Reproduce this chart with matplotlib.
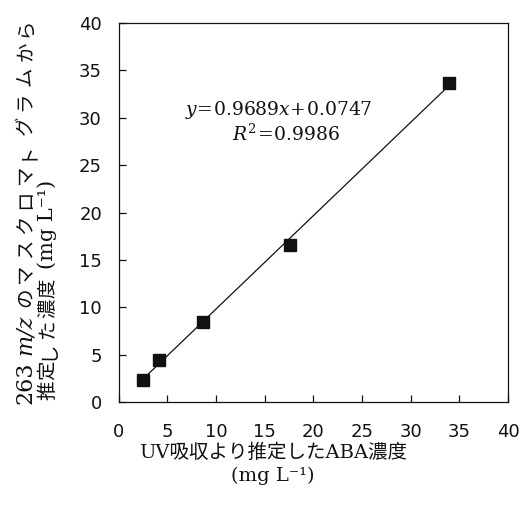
import numpy as np
import matplotlib
matplotlib.use("Agg")
import matplotlib.pyplot as plt

# values
uv_aba = [2.5, 4.1, 8.7, 17.6, 33.9]      # UV吸収より推定したABA濃度
ms_aba = [2.4, 4.5, 8.5, 16.6, 33.7]      # 263 m/z のマスクロマトグラムから推定した濃度
ticks = [0, 5, 10, 15, 20, 25, 30, 35, 40]
eq_text = r"$y\!=\!0.9689x\!+\!0.0747$"
r2_text = r"$R^2\!=\!0.9986$"

plt.rcParams['mathtext.fontset'] = 'dejavuserif'
serif_jp = ['DejaVu Serif', 'Noto Sans CJK JP']
ink = '#111111'

fig = plt.figure(figsize=(5.22, 5.07), dpi=100)
ax = fig.add_axes([0.2272, 0.2065, 0.746, 0.748])

# regression line over the data range
k, b = np.polyfit(uv_aba, ms_aba, 1)
xs = np.array([min(uv_aba), max(uv_aba)])
ax.plot(xs, k * xs + b, color=ink, lw=0.9, zorder=2)
ax.plot(uv_aba, ms_aba, 's', color=ink, ms=8.8, zorder=3)

ax.set_xlim(0, 40)
ax.set_ylim(0, 40)
ax.set_xticks(ticks)
ax.set_yticks(ticks)
ax.tick_params(direction='in', length=5, width=0.9, labelsize=13, colors=ink)
ax.tick_params(axis='x', pad=15)
ax.tick_params(axis='y', pad=12)
for s in ax.spines.values():
    s.set_linewidth(0.9)
    s.set_color(ink)

ax.text(0.412, 0.772, eq_text, transform=ax.transAxes, ha='center', va='center',
        fontsize=13.5, color=ink)
ax.text(0.43, 0.706, r2_text, transform=ax.transAxes, ha='center', va='center',
        fontsize=13.5, color=ink)

# x label
fig.text(273 / 522, 1 - 453 / 507, 'UV吸収より推定したABA濃度', ha='center', va='center',
         fontsize=14, family=serif_jp, color=ink)
fig.text(273 / 522, 1 - 476 / 507, '(mg L⁻¹)', ha='center', va='center',
         fontsize=14, family=serif_jp, color=ink)

# y label: two rotated lines, placed piece by piece (pixel y from top, piece centre)
def rot_text(xpix, ypix, txt, style='normal', size=14):
    return fig.text(xpix / 522, 1 - ypix / 507, txt, rotation=90, rotation_mode='anchor',
                    ha='center', va='baseline', fontsize=size, family=serif_jp,
                    style=style, color=ink)

def spaced(xpix, ytop, chars, step):
    for i, c in enumerate(chars):
        rot_text(xpix, ytop - step / 2 - i * step, c)

rot_text(31, 383, '263', size=16)
rot_text(31, 335, 'm/z', 'italic', size=16)
spaced(31, 310, 'のマスクロマトグラムから', 24.6)

spaced(53, 401, '推定した濃度', 20.5)
rot_text(53, 224, '(mg L⁻¹)', size=15)

fig.savefig('out.png', dpi=100)
